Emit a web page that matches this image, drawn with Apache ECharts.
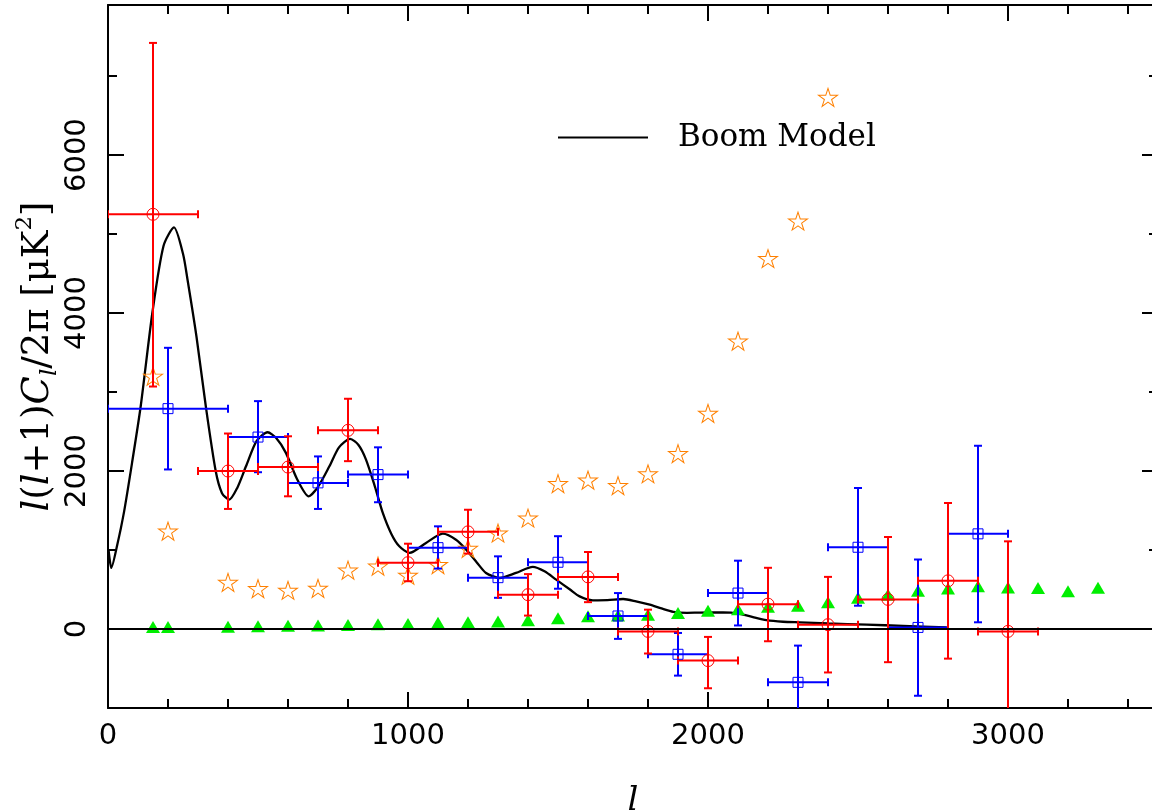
<!DOCTYPE html>
<html>
<head>
<meta charset="utf-8">
<script src="https://cdn.jsdelivr.net/npm/echarts@6/dist/echarts.min.js"></script>
<style>
html,body{margin:0;padding:0;background:#fff;}
#chart{width:1152px;height:811px;}
</style>
</head>
<body>
<div id="chart"></div>
<script>
// Boom model curve
const modelL = [2, 11, 30, 53, 80, 109, 148, 185, 220, 250, 265, 295, 326, 359, 380, 404, 430, 460, 495, 532, 560, 593, 630, 669, 700, 738, 770, 807, 835, 860, 890, 916, 945, 971, 1005, 1060, 1116, 1160, 1194, 1230, 1260, 1305, 1360, 1416, 1455, 1494, 1540, 1572, 1616, 1665, 1717, 1760, 1806, 1845, 1884, 1930, 1973, 2050, 2106, 2150, 2195, 2250, 2306, 2400, 2529, 2650, 2796];
const modelV = [1000, 773, 1050, 1473, 2100, 2820, 4007, 4850, 5085, 4750, 4425, 3700, 2820, 2000, 1720, 1638, 1780, 2060, 2380, 2491, 2420, 2230, 1900, 1680, 1800, 2060, 2300, 2407, 2330, 2145, 1800, 1470, 1200, 1047, 963, 1090, 1207, 1130, 1005, 840, 710, 646, 710, 786, 730, 625, 500, 413, 363, 365, 380, 350, 308, 260, 218, 205, 208, 210, 192, 150, 112, 92, 84, 70, 55, 40, 20];

// Red circles with error bars
const redL   = [150, 400, 600, 800, 1000, 1200, 1400, 1600, 1800, 2000, 2200, 2400, 2600, 2800, 3000];
const redV   = [5250, 2000, 2050, 2515, 840, 1230, 435, 660, -30, -400, 315, 55, 375, 610, -30];
const redXlo = [0, 300, 500, 700, 900, 1100, 1300, 1500, 1700, 1900, 2100, 2300, 2500, 2700, 2900];
const redXhi = [300, 500, 700, 900, 1100, 1300, 1500, 1700, 1900, 2100, 2300, 2500, 2700, 2900, 3100];
const redYlo = [3070, 1520, 1680, 2125, 605, 955, 170, 340, -310, -750, -155, -550, -420, -375, -1200];
const redYhi = [7420, 2475, 2440, 2915, 1080, 1510, 695, 975, 245, -100, 775, 660, 1165, 1595, 1110];

// Blue squares with error bars
const blueL   = [200, 500, 700, 900, 1100, 1300, 1500, 1700, 1900, 2100, 2300, 2500, 2700, 2900];
const blueV   = [2790, 2430, 1850, 1955, 1030, 650, 845, 165, -320, 455, -675, 1035, 20, 1205];
const blueXlo = [0, 400, 600, 800, 1000, 1200, 1400, 1600, 1800, 2000, 2200, 2400, 2600, 2800];
const blueXhi = [400, 600, 800, 1000, 1200, 1400, 1600, 1800, 2000, 2200, 2400, 2600, 2800, 3000];
const blueYlo = [2020, 1985, 1520, 1605, 765, 395, 510, -125, -590, 45, -1200, 295, -845, 85];
const blueYhi = [3560, 2885, 2185, 2300, 1300, 920, 1175, 455, -50, 865, -210, 1785, 880, 2320];

// Orange stars
const starL = [150, 200, 400, 500, 600, 700, 800, 900, 1000, 1100, 1200, 1300, 1400, 1500, 1600, 1700, 1800, 1900, 2000, 2100, 2200, 2300, 2400];
const starV = [3200, 1240, 590, 510, 490, 515, 745, 795, 680, 815, 1020, 1215, 1405, 1840, 1885, 1815, 1965, 2220, 2730, 3645, 4690, 5165, 6730];

// Green triangles
const triL = [150, 200, 400, 500, 600, 700, 800, 900, 1000, 1100, 1200, 1300, 1400, 1500, 1600, 1700, 1800, 1900, 2000, 2100, 2200, 2300, 2400, 2500, 2600, 2700, 2800, 2900, 3000, 3100, 3200, 3300];
const triV = [25, 25, 30, 35, 40, 45, 50, 60, 65, 78, 85, 95, 110, 135, 160, 172, 182, 203, 230, 250, 283, 295, 338, 397, 435, 485, 513, 540, 527, 519, 477, 523];

// Axis ticks
const xMajor = [0, 1000, 2000, 3000];
const xMinor = [200, 400, 600, 800, 1200, 1400, 1600, 1800, 2200, 2400, 2600, 2800, 3200, 3400];
const yMajor = [0, 2000, 4000, 6000];
const yMinor = [-1000, 1000, 3000, 5000, 7000];

const X_MIN = 0, X_MAX = 3500, Y_MIN = -1000, Y_MAX = 7900;
const starPath = 'path://M50 0 L61.23 34.55 L97.55 34.55 L68.17 55.9 L79.39 90.45 L50 69.1 L20.61 90.45 L31.83 55.9 L2.45 34.55 L38.77 34.55 Z';

function zip(...arrs) { return arrs[0].map((_, i) => arrs.map(a => a[i])); }

function errSeries(name, L, V, xlo, xhi, ylo, yhi, color) {
  return {
    type: 'custom', name: name, coordinateSystem: 'cartesian2d', clip: true, z: 3,
    data: zip(L, V, xlo, xhi, ylo, yhi),
    renderItem: function (params, api) {
      const x = api.value(0), y = api.value(1);
      const pL = api.coord([api.value(2), y]), pR = api.coord([api.value(3), y]);
      const pB = api.coord([x, api.value(4)]), pT = api.coord([x, api.value(5)]);
      const c = 4;
      const st = { stroke: color, lineWidth: 2 };
      const ln = (x1, y1, x2, y2) => ({ type: 'line', shape: { x1, y1, x2, y2 }, style: st });
      return { type: 'group', children: [
        ln(pL[0], pL[1], pR[0], pR[1]),
        ln(pT[0], pT[1], pB[0], pB[1]),
        ln(pL[0], pL[1] - c, pL[0], pL[1] + c),
        ln(pR[0], pR[1] - c, pR[0], pR[1] + c),
        ln(pT[0] - c, pT[1], pT[0] + c, pT[1]),
        ln(pB[0] - c, pB[1], pB[0] + c, pB[1])
      ]};
    }
  };
}

const tickFont = { fontFamily: 'DejaVu Sans', fontSize: 29, color: '#000', formatter: v => String(v) };
const axLine = { show: true, onZero: false, lineStyle: { color: '#000', width: 2 } };

function xAx(pos, vals, len, withLabel, withLine) {
  return {
    type: 'value', position: pos, min: X_MIN, max: X_MAX,
    axisLine: withLine ? axLine : { show: false, onZero: false },
    splitLine: { show: false },
    axisTick: { show: true, inside: true, length: len, customValues: vals, lineStyle: { color: '#000', width: 2 } },
    axisLabel: withLabel ? Object.assign({ show: true, margin: 14, customValues: vals }, tickFont) : { show: false }
  };
}
function yAx(pos, vals, len, withLabel, withLine) {
  return {
    type: 'value', position: pos, min: Y_MIN, max: Y_MAX,
    axisLine: withLine ? axLine : { show: false, onZero: false },
    splitLine: { show: false },
    axisTick: { show: true, inside: true, length: len, customValues: vals, lineStyle: { color: '#000', width: 2 } },
    axisLabel: withLabel ? Object.assign({ show: true, margin: 16, rotate: 90, customValues: vals }, tickFont) : { show: false }
  };
}

const xAxes = [xAx('bottom', xMajor, 16, true, true), xAx('bottom', xMinor, 9, false, false), xAx('top', xMajor, 16, false, true), xAx('top', xMinor, 9, false, false)];
xAxes[0].name = 'l';
xAxes[0].nameLocation = 'middle';
xAxes[0].nameGap = 76;
xAxes[0].nameMoveOverlap = false;
xAxes[0].nameTextStyle = { fontFamily: 'DejaVu Serif', fontStyle: 'italic', fontSize: 34, color: '#000' };

const yAxes = [yAx('left', yMajor, 16, true, true), yAx('left', yMinor, 9, false, false), yAx('right', yMajor, 16, false, true), yAx('right', yMinor, 9, false, false)];
yAxes[0].name = '{i|l}{n|(}{i|l}{n|+1)}{i|C}{sub|l}{n|/2π [μK}{sup|2}{n|]}';
yAxes[0].nameLocation = 'middle';
yAxes[0].nameRotate = 90;
yAxes[0].nameGap = 46;
yAxes[0].nameMoveOverlap = false;
yAxes[0].nameTextStyle = {
  color: '#000',
  rich: {
    i: { fontFamily: 'DejaVu Serif', fontStyle: 'italic', fontSize: 37, lineHeight: 48, color: '#000' },
    n: { fontFamily: 'DejaVu Serif', fontSize: 37, lineHeight: 48, color: '#000' },
    sub: { fontFamily: 'DejaVu Serif', fontStyle: 'italic', fontSize: 23, verticalAlign: 'bottom', color: '#000' },
    sup: { fontFamily: 'DejaVu Serif', fontSize: 23, verticalAlign: 'top', color: '#000' }
  }
};

const option = {
  animation: false,
  backgroundColor: '#fff',
  grid: { left: 108, right: -6, top: 5, bottom: 103, containLabel: false, outerBoundsMode: 'none' },
  legend: {
    data: [{ name: 'Boom Model', icon: 'rect' }],
    left: 558, top: 122, padding: 0,
    itemWidth: 90, itemHeight: 2,
    textStyle: { fontFamily: 'DejaVu Serif', fontSize: 31, color: '#000', padding: [0, 0, 0, 25] },
    selectedMode: false
  },
  xAxis: xAxes,
  yAxis: yAxes,
  series: [
    {
      type: 'line', name: 'Boom Model', data: zip(modelL, modelV), smooth: 0.25,
      showSymbol: false, symbol: 'none', z: 2,
      itemStyle: { color: '#000' },
      lineStyle: { color: '#000', width: 2.3 },
      markLine: {
        silent: true, symbol: 'none', label: { show: false },
        lineStyle: { color: '#000', width: 2, type: 'solid' },
        data: [{ yAxis: 0 }]
      }
    },
    {
      type: 'scatter', name: 'triangles', data: zip(triL, triV), symbol: 'triangle', symbolSize: [14, 12], z: 2,
      itemStyle: { color: '#00ee00', opacity: 1 }
    },
    {
      type: 'scatter', name: 'stars', data: zip(starL, starV), symbol: starPath, symbolSize: [19, 18], z: 2,
      itemStyle: { color: 'transparent', borderColor: '#ff8000', borderWidth: 1, opacity: 1 }
    },
    errSeries('blueErr', blueL, blueV, blueXlo, blueXhi, blueYlo, blueYhi, '#0000ff'),
    {
      type: 'scatter', name: 'blue', data: zip(blueL, blueV), symbol: 'rect', symbolSize: 10, z: 4,
      itemStyle: { color: 'transparent', borderColor: '#0000ff', borderWidth: 1, opacity: 1 }
    },
    errSeries('redErr', redL, redV, redXlo, redXhi, redYlo, redYhi, '#ff0000'),
    {
      type: 'scatter', name: 'red', data: zip(redL, redV), symbol: 'circle', symbolSize: 12, z: 4,
      itemStyle: { color: 'transparent', borderColor: '#ff0000', borderWidth: 1, opacity: 1 }
    }
  ]
};

const chart = echarts.init(document.getElementById('chart'), null, { renderer: 'canvas' });
chart.setOption(option);
</script>
</body>
</html>
